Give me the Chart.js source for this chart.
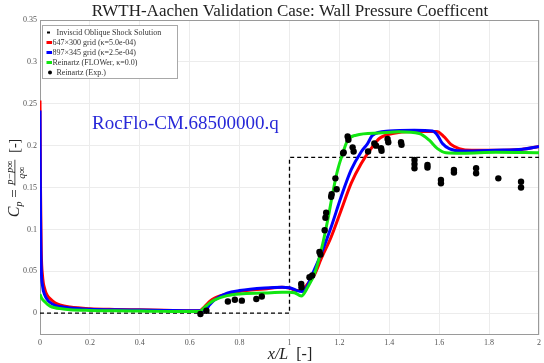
<!DOCTYPE html>
<html>
<head>
<meta charset="utf-8">
<script src="https://cdn.jsdelivr.net/npm/chart.js@4.4.1/dist/chart.umd.min.js"></script>
<style>
  body { margin: 0; background: #fff; }
</style>
</head>
<body>
<canvas id="cpChart" width="544" height="363"></canvas>
<script>
// axis ticks
const xTicks = [0, 0.2, 0.4, 0.6, 0.8, 1, 1.2, 1.4, 1.6, 1.8, 2];
const xTickLabels = ['0', '0.2', '0.4', '0.6', '0.8', '1', '1.2', '1.4', '1.6', '1.8', '2'];
const yTicks = [0, 0.05, 0.1, 0.15, 0.2, 0.25, 0.3, 0.35];
const yTickLabels = ['0', '0.05', '0.1', '0.15', '0.2', '0.25', '0.3', '0.35'];

// inviscid oblique shock solution
const shockX = [0, 1, 1, 2];
const shockY = [0, 0, 0.186, 0.186];

// 647x300 grid
const redX = [0, 0.002, 0.005, 0.01, 0.02, 0.03, 0.04, 0.06, 0.08, 0.12, 0.2, 0.3, 0.4, 0.5, 0.6, 0.64, 0.66, 0.68, 0.7, 0.75, 0.8, 0.9, 0.97, 1.0, 1.03, 1.05, 1.07, 1.1, 1.127, 1.167, 1.207, 1.247, 1.287, 1.327, 1.36, 1.413, 1.49, 1.59, 1.62, 1.647, 1.68, 1.73, 1.83, 1.93, 2.0];
const redY = [0.254, 0.15, 0.075, 0.045, 0.028, 0.021, 0.0175, 0.0125, 0.0098, 0.0074, 0.0054, 0.0045, 0.004, 0.0035, 0.003, 0.003, 0.008, 0.014, 0.018, 0.023, 0.026, 0.029, 0.031, 0.030, 0.027, 0.028, 0.034, 0.046, 0.065, 0.091, 0.123, 0.155, 0.1785, 0.1965, 0.2085, 0.2145, 0.217, 0.217, 0.2105, 0.2015, 0.1965, 0.1945, 0.1945, 0.1955, 0.199];

// 897x345 grid
const blueX = [0, 0.002, 0.005, 0.01, 0.02, 0.03, 0.04, 0.06, 0.08, 0.12, 0.2, 0.3, 0.4, 0.5, 0.6, 0.66, 0.68, 0.7, 0.75, 0.8, 0.9, 0.97, 1.0, 1.03, 1.05, 1.07, 1.087, 1.127, 1.167, 1.207, 1.247, 1.287, 1.313, 1.333, 1.4, 1.5, 1.573, 1.593, 1.613, 1.64, 1.693, 1.827, 1.933, 2.0];
const blueY = [0.242, 0.12, 0.055, 0.033, 0.021, 0.016, 0.013, 0.0095, 0.008, 0.0063, 0.0048, 0.004, 0.0037, 0.0033, 0.003, 0.003, 0.010, 0.016, 0.024, 0.027, 0.030, 0.031, 0.0305, 0.027, 0.026, 0.032, 0.0435, 0.071, 0.103, 0.139, 0.171, 0.1925, 0.2025, 0.2125, 0.2175, 0.2185, 0.2175, 0.2125, 0.2025, 0.1965, 0.1935, 0.1945, 0.1957, 0.199];

// Reinartz FLOWer
const greenX = [0, 0.005, 0.01, 0.02, 0.03, 0.04, 0.06, 0.08, 0.12, 0.2, 0.3, 0.4, 0.5, 0.6, 0.64, 0.66, 0.68, 0.7, 0.75, 0.8, 0.9, 0.97, 1.0, 1.02, 1.047, 1.073, 1.1, 1.127, 1.153, 1.173, 1.193, 1.213, 1.233, 1.267, 1.36, 1.44, 1.52, 1.56, 1.593, 1.627, 1.693, 1.827, 2.0];
const greenY = [0.0227, 0.019, 0.0165, 0.0135, 0.0105, 0.0085, 0.0065, 0.0055, 0.0042, 0.0033, 0.0028, 0.0025, 0.0022, 0.002, 0.002, 0.007, 0.012, 0.016, 0.021, 0.023, 0.024, 0.025, 0.025, 0.0245, 0.0205, 0.031, 0.047, 0.075, 0.111, 0.143, 0.171, 0.1905, 0.2065, 0.2125, 0.215, 0.2165, 0.2145, 0.2065, 0.1965, 0.1915, 0.191, 0.192, 0.1915];

// Reinartz experiment
const expX = [0.643, 0.667, 0.753, 0.781, 0.809, 0.867, 0.889, 1.047, 1.048, 1.080, 1.091, 1.120, 1.124, 1.141, 1.144, 1.147, 1.167, 1.169, 1.184, 1.189, 1.215, 1.217, 1.233, 1.236, 1.253, 1.257, 1.315, 1.340, 1.347, 1.367, 1.369, 1.393, 1.396, 1.447, 1.449, 1.501, 1.501, 1.501, 1.553, 1.553, 1.607, 1.607, 1.659, 1.659, 1.748, 1.748, 1.837, 1.928, 1.928];
const expY = [-0.001, 0.003, 0.014, 0.016, 0.015, 0.017, 0.020, 0.035, 0.031, 0.043, 0.045, 0.073, 0.070, 0.099, 0.114, 0.120, 0.139, 0.142, 0.161, 0.148, 0.191, 0.192, 0.211, 0.207, 0.198, 0.193, 0.193, 0.2025, 0.200, 0.197, 0.194, 0.208, 0.204, 0.204, 0.201, 0.183, 0.178, 0.173, 0.177, 0.174, 0.159, 0.155, 0.171, 0.168, 0.173, 0.167, 0.161, 0.157, 0.150];

const zip = (xs, ys) => xs.map((x, i) => ({ x: x, y: ys[i] }));

const SERIF = "'Liberation Serif', 'DejaVu Serif', serif";

const decor = {
  id: 'decor',
  beforeDatasetsDraw(chart) {
    const { ctx, chartArea: a } = chart;
    ctx.save();
    ctx.strokeStyle = '#9a9a9a';
    ctx.lineWidth = 1;
    ctx.strokeRect(a.left + 0.5, a.top + 0.5, a.right - a.left - 1, a.bottom - a.top - 1);
    ctx.restore();
  },
  afterDraw(chart) {
    const { ctx } = chart;
    ctx.save();
    ctx.fillStyle = '#222';
    ctx.textBaseline = 'alphabetic';

    // title
    ctx.font = '17px ' + SERIF;
    ctx.textAlign = 'center';
    ctx.fillText('RWTH-Aachen Validation Case: Wall Pressure Coefficent', 290, 16);

    // solution file tag
    ctx.fillStyle = '#2828d8';
    ctx.font = '19px ' + SERIF;
    ctx.textAlign = 'left';
    ctx.fillText('RocFlo-CM.68500000.q', 92, 129);

    // x axis title
    ctx.fillStyle = '#222';
    const xa = 'x/L';
    ctx.font = '16px ' + SERIF;
    const xb = '  [-]';
    const wb = ctx.measureText(xb).width;
    ctx.font = 'italic 16px ' + SERIF;
    const wa = ctx.measureText(xa).width;
    let sx = 290 - (wa + wb) / 2;
    ctx.fillText(xa, sx, 359);
    ctx.font = '16px ' + SERIF;
    ctx.fillText(xb, sx + wa, 359);

    // y axis title: Cp = (p - p_inf) / q_inf [-]
    ctx.translate(19, 178);
    ctx.rotate(-Math.PI / 2);
    const parts = [
      { t: 'C', f: 'italic 16px ' + SERIF, dy: 0 },
      { t: 'p', f: 'italic 10px ' + SERIF, dy: 3 },
      { t: ' = ', f: '15px ' + SERIF, dy: 0 },
      { frac: true },
      { t: '  [-]', f: '14px ' + SERIF, dy: 0 }
    ];
    const numT = 'p\u2212p\u221E', denT = 'q\u221E';
    ctx.font = 'italic 10px ' + SERIF;
    const fracW = Math.max(ctx.measureText(numT).width, ctx.measureText(denT).width) + 2;
    let total = 0;
    parts.forEach(p => {
      if (p.frac) { p.w = fracW; } else { ctx.font = p.f; p.w = ctx.measureText(p.t).width; }
      total += p.w;
    });
    let px = -total / 2;
    parts.forEach(p => {
      if (p.frac) {
        ctx.font = 'italic 10px ' + SERIF;
        ctx.textAlign = 'center';
        ctx.fillText(numT, px + fracW / 2, -6.5);
        ctx.fillText(denT, px + fracW / 2, 5.5);
        ctx.fillRect(px, -4.5, fracW, 0.8);
        ctx.textAlign = 'left';
      } else {
        ctx.font = p.f;
        ctx.fillText(p.t, px, p.dy);
      }
      px += p.w;
    });
    ctx.setTransform(1, 0, 0, 1, 0, 0);

    // legend
    const lx = 42, ly = 25, lw = 135, lh = 53;
    ctx.fillStyle = '#fff';
    ctx.fillRect(lx, ly, lw, lh);
    ctx.strokeStyle = '#a8a8a8';
    ctx.lineWidth = 1;
    ctx.strokeRect(lx + 0.5, ly + 0.5, lw, lh);
    ctx.font = '8px ' + SERIF;
    ctx.textBaseline = 'middle';
    ctx.textAlign = 'left';
    chart.data.datasets.forEach((ds, i) => {
      const y = 32.5 + i * 10;
      ctx.fillStyle = '#000';
      if (ds.showLine === false) {
        ctx.beginPath();
        ctx.arc(50, y, 2, 0, Math.PI * 2);
        ctx.fill();
        ctx.fillStyle = '#333';
        ctx.fillText(ds.label, 56.5, y);
      } else if (ds.borderDash) {
        ctx.fillRect(47, y - 1, 3, 2);
        ctx.fillStyle = '#333';
        ctx.fillText(ds.label, 56.5, y);
      } else {
        ctx.fillStyle = ds.borderColor;
        ctx.fillRect(46.5, y - 1.5, 5.5, 3);
        ctx.fillStyle = '#333';
        ctx.fillText(ds.label, 52.5, y);
      }
    });
    ctx.restore();
  }
};

const ctx = document.getElementById('cpChart').getContext('2d');
const cpChart = new Chart(ctx, {
  type: 'line',
  data: {
    datasets: [{
      label: 'Inviscid Oblique Shock Solution',
      data: zip(shockX, shockY),
      borderColor: '#000',
      borderWidth: 1.3,
      borderDash: [4, 3],
      pointRadius: 0,
      tension: 0,
      order: 4
    }, {
      label: '647\u00D7300 grid (\u03BA=5.0e-04)',
      data: zip(redX, redY),
      borderColor: '#ff0000',
      borderWidth: 3,
      pointRadius: 0,
      cubicInterpolationMode: 'monotone',
      order: 3
    }, {
      label: '897\u00D7345 grid (\u03BA=2.5e-04)',
      data: zip(blueX, blueY),
      borderColor: '#0000ff',
      borderWidth: 3,
      pointRadius: 0,
      cubicInterpolationMode: 'monotone',
      order: 2
    }, {
      label: 'Reinartz (FLOWer, \u03BA=0.0)',
      data: zip(greenX, greenY),
      borderColor: '#12e612',
      borderWidth: 3,
      pointRadius: 0,
      cubicInterpolationMode: 'monotone',
      order: 1
    }, {
      label: 'Reinartz (Exp.)',
      data: zip(expX, expY),
      showLine: false,
      pointRadius: 3.2,
      pointBackgroundColor: '#000',
      pointBorderWidth: 0,
      order: 0
    }]
  },
  options: {
    responsive: false,
    animation: false,
    devicePixelRatio: 1,
    layout: { padding: { top: 20, right: 3, left: 0, bottom: 0 } },
    plugins: {
      legend: { display: false },
      tooltip: { enabled: false }
    },
    scales: {
      x: {
        type: 'linear',
        min: 0,
        max: 2,
        afterBuildTicks: s => { s.ticks = xTicks.map(v => ({ value: v })); },
        afterFit: s => { s.height = 28; },
        ticks: {
          padding: 3,
          color: '#555',
          font: { family: SERIF, size: 8 },
          maxRotation: 0,
          callback: (v, i) => xTickLabels[i]
        },
        grid: { color: '#ececec', drawTicks: false },
        border: { display: false }
      },
      y: {
        type: 'linear',
        min: -0.026,
        max: 0.35,
        afterBuildTicks: s => { s.ticks = yTicks.map(v => ({ value: v })); },
        afterFit: s => { s.width = 40; },
        ticks: {
          padding: 3,
          color: '#555',
          font: { family: SERIF, size: 8 },
          callback: (v, i) => yTickLabels[i]
        },
        grid: { color: '#ececec', drawTicks: false },
        border: { display: false }
      }
    }
  },
  plugins: [decor]
});
</script>
</body>
</html>
